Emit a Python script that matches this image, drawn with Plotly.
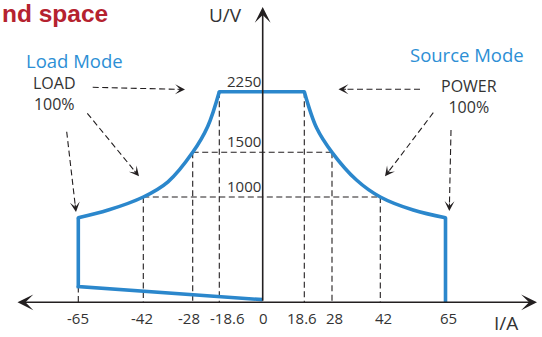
import numpy as np
import plotly.graph_objects as go

# ---------------- data ----------------
I_TICKS = [-65, -42, -28, -18.6, 0, 18.6, 28, 42, 65]
I_TICK_TEXT = ["-65", "-42", "-28", "-18.6", "0", "18.6", "28", "42", "65"]
U_TICKS = [1000, 1500, 2250]
U_TICK_TEXT = ["1000", "1500", "2250"]

load_curve_I = [-65, -54.4, -42, -35, -28, -22.7, -18.6]
load_curve_U = [803, 876, 1000, 1170, 1500, 1820, 2250]
source_curve_I = [18.6, 22.8, 28, 35.1, 42, 53.6, 65]
source_curve_U = [2250, 1800, 1500, 1190, 1000, 876, 803]
load_base_I = [0, -65, -65]
load_base_U = [25, 150, 803]
flat_top_I = [-18.6, 18.6]
flat_top_U = [2250, 2250]
source_edge_I = [65, 65]
source_edge_U = [803, 0]

guide_v_I = [-65, -42, -28, -18.6, 18.6, 28, 42]
guide_v_U = [150, 1000, 1500, 2250, 2250, 1500, 1000]
guide_h_U = [1500, 1000]
guide_h_I = [28, 42]

# ---------------- layout / style ----------------
W, H = 542, 337
OX, OY = 262.7, 302.3            # origin in page pixels
I_POS = [-184.4, -119.4, -70, -43.4, 0, 41.6, 69.3, 117.6, 182.8]   # schematic (not to scale) axis
U_REF = [0, 1000, 1500, 2250]
U_POS = [0, 105.3, 150, 210.6]
# small horizontal nudges of x tick labels (px), to keep crowded labels apart
I_LABEL_SHIFT = [0, -1, -4, 8, 1, -2, 2, 3, 3]

BLUE = "#2b87cc"
INK = "#231f20"
TXT = "#333333"
FONT = "Open Sans"


def sx(v):
    return np.interp(v, I_TICKS, I_POS)


def sy(v):
    return np.interp(v, U_REF, U_POS)


def P(px, py):
    """page pixel -> axis units (for decorations)"""
    return px - OX, OY - py


fig = go.Figure()

# dashed guide lines
shapes = []
dash = dict(color=INK, width=1.1, dash="6px,3.5px")
for i, u in zip(guide_v_I, guide_v_U):
    shapes.append(dict(type="line", xref="x", yref="y", x0=sx(i), x1=sx(i),
                       y0=sy(u), y1=0, line=dash, layer="below"))
for u, i in zip(guide_h_U, guide_h_I):
    shapes.append(dict(type="line", xref="x", yref="y", x0=sx(-i), x1=sx(i),
                       y0=sy(u), y1=sy(u), line=dash, layer="below"))

# blue operating boundary
line_kw = dict(color=BLUE, width=3.6)
fig.add_trace(go.Scatter(x=sx(load_base_I), y=sy(load_base_U), mode="lines", line=line_kw))
fig.add_trace(go.Scatter(x=sx(load_curve_I), y=sy(load_curve_U), mode="lines",
                         line=dict(line_kw, shape="spline", smoothing=1.0)))
fig.add_trace(go.Scatter(x=sx(flat_top_I), y=sy(flat_top_U), mode="lines", line=line_kw))
fig.add_trace(go.Scatter(x=sx(source_curve_I), y=sy(source_curve_U), mode="lines",
                         line=dict(line_kw, shape="spline", smoothing=1.0)))
fig.add_trace(go.Scatter(x=sx(source_edge_I), y=sy(source_edge_U), mode="lines", line=line_kw))
corner_I = [-65, -65, -18.6, 18.6, 65]
corner_U = [150, 803, 2250, 2250, 803]
fig.add_trace(go.Scatter(x=sx(corner_I), y=sy(corner_U), mode="markers",
                         marker=dict(color=BLUE, size=3.4)))

annotations = []

# axes with arrow heads
x0, _ = P(16, OY)
x1, _ = P(537, OY)
annotations.append(dict(x=x1, y=0, ax=x0, ay=0, xref="x", yref="y", axref="x", ayref="y",
                        text="", showarrow=True, arrowhead=3, startarrowhead=3,
                        arrowside="end+start", arrowwidth=1.6, arrowsize=1.65,
                        startarrowsize=1.65, arrowcolor=INK))
_, ytop = P(OX, 7)
annotations.append(dict(x=0, y=ytop, ax=0, ay=0, xref="x", yref="y", axref="x", ayref="y",
                        text="", showarrow=True, arrowhead=3, arrowwidth=1.6,
                        arrowsize=1.65, arrowcolor=INK))


def dashed_arrow(tail, tip):
    tx, ty = P(*tail)
    hx, hy = P(*tip)
    d = np.array([tip[0] - tail[0], tip[1] - tail[1]], float)
    d /= np.linalg.norm(d)
    ex, ey = P(tip[0] - d[0] * 7, tip[1] - d[1] * 7)
    shapes.append(dict(type="line", xref="x", yref="y", x0=tx, y0=ty, x1=ex, y1=ey,
                       line=dict(color=INK, width=1.1, dash="6px,3.5px")))
    annotations.append(dict(x=hx, y=hy, xref="x", yref="y", ax=-d[0] * 9, ay=-d[1] * 9,
                            text="", showarrow=True, arrowhead=3, arrowwidth=1.1,
                            arrowsize=1.5, arrowcolor=INK))


dashed_arrow((92.7, 87.3), (185, 89.5))
dashed_arrow((87.3, 113.3), (139, 176.3))
dashed_arrow((66.7, 131.7), (76, 212))
dashed_arrow((420, 89.3), (338.5, 89.3))
dashed_arrow((433.3, 112.7), (385, 176.3))
dashed_arrow((451, 130), (449.3, 211))

# x tick labels (below the axis)
for i, t, s in zip(I_TICKS, I_TICK_TEXT, I_LABEL_SHIFT):
    annotations.append(dict(x=sx(i), y=0, xref="x", yref="y", text=t, showarrow=False,
                            xanchor="center", yanchor="middle", xshift=s, yshift=-16,
                            font=dict(family=FONT, size=15, color=TXT)))

# y tick labels (left of axis, sitting on the lines)
for u, t in zip(U_TICKS, U_TICK_TEXT):
    annotations.append(dict(x=0, y=sy(u), xref="x", yref="y", text=t, showarrow=False,
                            xanchor="right", yanchor="bottom", xshift=0, yshift=-1,
                            font=dict(family=FONT, size=15, color=TXT)))


def label(px, py, text, size, color=TXT, family=FONT, anchor="center", bold=False):
    x, y = P(px, py)
    annotations.append(dict(x=x, y=y, xref="x", yref="y", text=text, showarrow=False,
                            xanchor=anchor, yanchor="middle",
                            font=dict(family=family, size=size, color=color,
                                      weight="bold" if bold else "normal")))


label(225.5, 15, "U/V", 19)
label(506, 323, "I/A", 19)
label(74.7, 60, "Load Mode", 18.5, color="#2d8fd5")
label(466.7, 54, "Source Mode", 18.5, color="#2d8fd5")
label(54.5, 93.5, "LOAD<br>100%", 16)
label(468.5, 96.5, "POWER<br>100%", 16)
label(110, 13, "nd space", 24.5, color="#b5222f", family="Liberation Sans",
      anchor="right", bold=True)

fig.update_layout(
    width=W, height=H,
    margin=dict(l=0, r=0, t=0, b=0),
    paper_bgcolor="white", plot_bgcolor="white",
    showlegend=False,
    shapes=shapes, annotations=annotations,
    xaxis=dict(range=[-OX, W - OX], visible=False, fixedrange=True, automargin=False),
    yaxis=dict(range=[OY - H, OY], visible=False, fixedrange=True, automargin=False),
)

fig.write_html("out.html", config={"displayModeBar": False},
               post_script="document.body.style.margin='0';document.body.style.padding='0';")
